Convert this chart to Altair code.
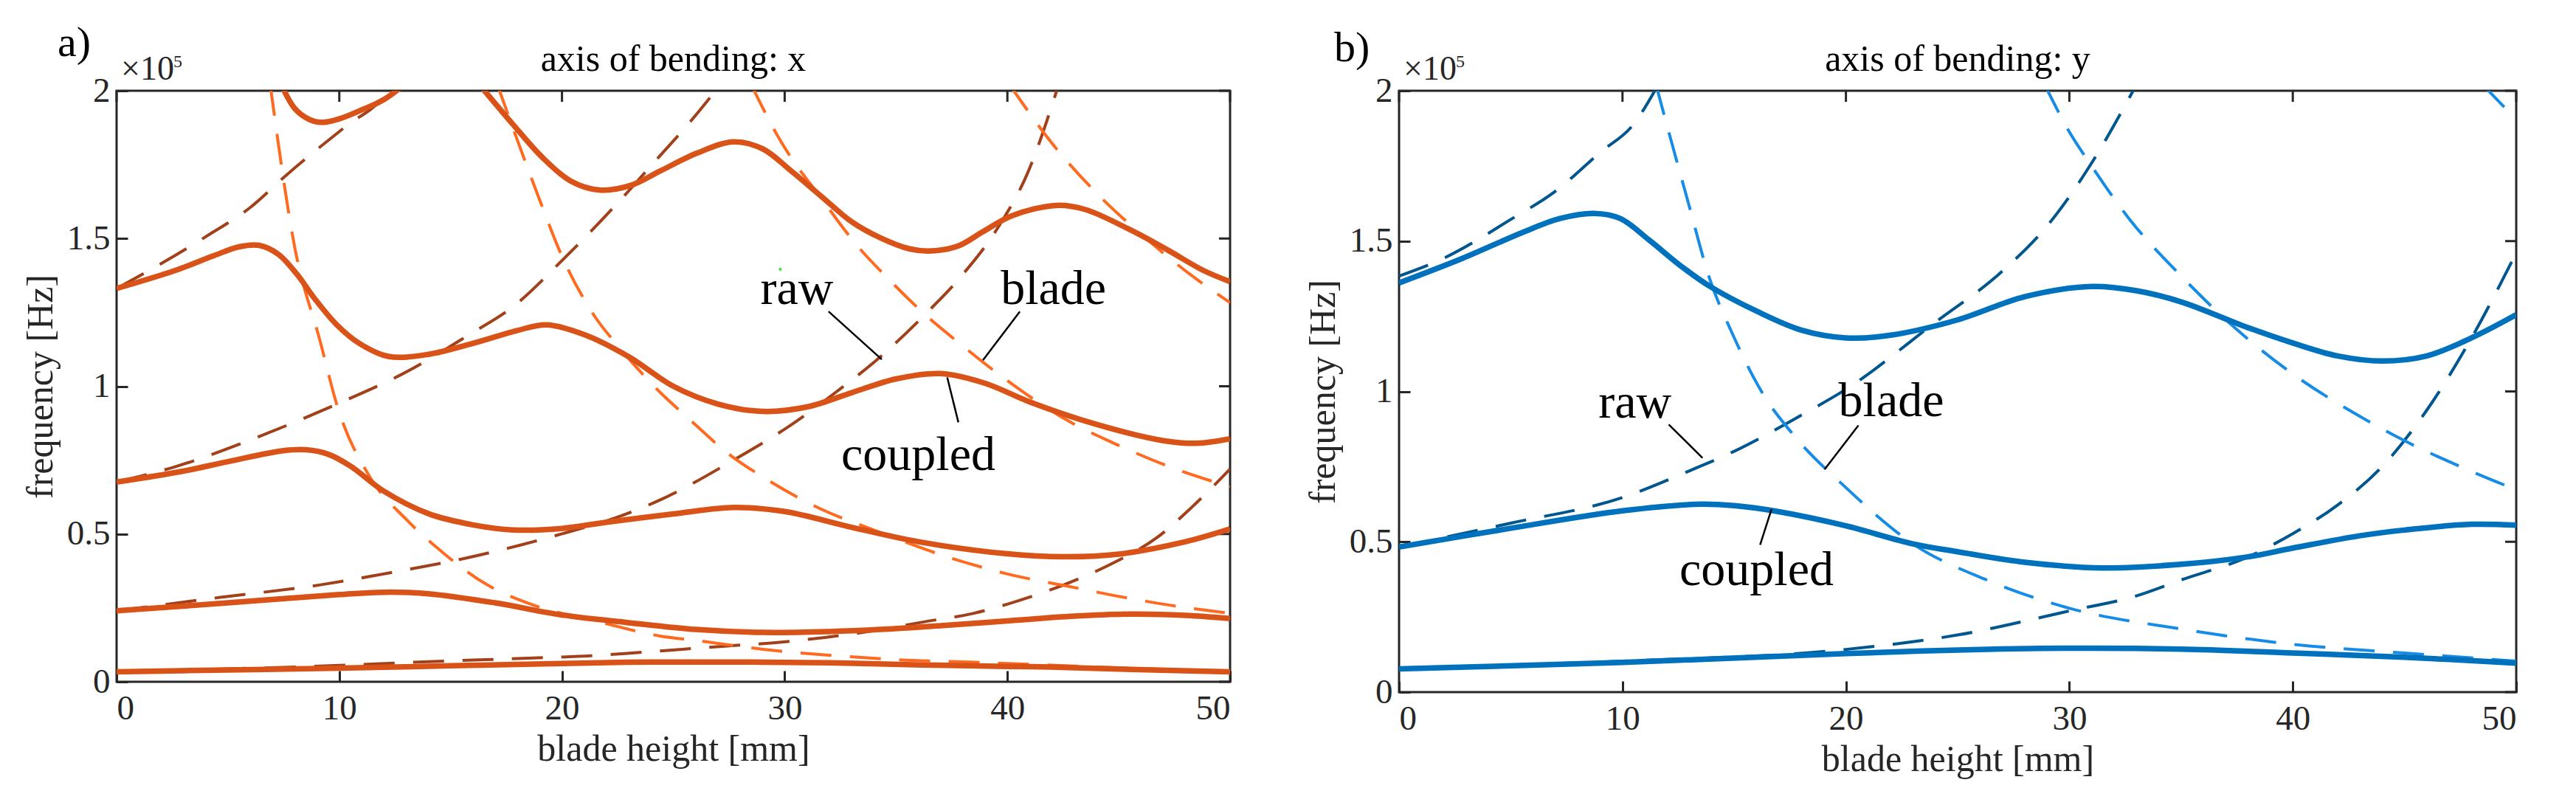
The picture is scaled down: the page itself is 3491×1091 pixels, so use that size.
import altair as alt
import pandas as pd

FONT = "Liberation Serif"
AXIS_COLOR = "#262626"

X_TICKS = [0, 10, 20, 30, 40, 50]
Y_TICKS = [0, 0.5, 1, 1.5, 2]

# ---- panel a) axis of bending: x  (frequency in units of 1e5 Hz)
A_COLORS = {"coupled": "#D95319", "raw": "#A2401A", "blade": "#FF6A1F"}

A_COUPLED_1_X = [0, 5, 10, 15, 20, 22.9, 25, 28, 32, 36.2, 40, 41.9, 45, 50]
A_COUPLED_1_F = [0.034, 0.040, 0.046, 0.054, 0.062, 0.066, 0.067, 0.067, 0.064, 0.057, 0.052, 0.050, 0.043, 0.034]
A_COUPLED_2_X = [0, 5, 10, 12, 14, 17, 20, 23, 26, 29, 32, 34.3, 37, 40, 43, 45.5, 48, 50]
A_COUPLED_2_F = [0.24, 0.267, 0.295, 0.303, 0.298, 0.267, 0.226, 0.2, 0.177, 0.167, 0.17, 0.177, 0.19, 0.206, 0.222, 0.229, 0.225, 0.214]
A_COUPLED_3_X = [0, 3, 5, 7.5, 8.5, 9.5, 10.5, 12, 14, 16, 17.8, 20, 22, 25, 27.7, 30, 33, 36, 40, 42.5, 45, 48, 50]
A_COUPLED_3_F = [0.676, 0.713, 0.745, 0.782, 0.785, 0.77, 0.73, 0.645, 0.569, 0.531, 0.514, 0.519, 0.54, 0.568, 0.59, 0.576, 0.523, 0.474, 0.433, 0.423, 0.432, 0.474, 0.517]
A_COUPLED_4_X = [0, 2.64, 4.3, 5.5, 6.4, 7.26, 8.1, 8.9, 9.9, 10.9, 12.2, 14, 16, 18, 19.3, 21, 23, 25, 27, 29, 31, 33, 35, 37, 39, 41, 44, 47, 48.5, 50]
A_COUPLED_4_F = [1.331, 1.392, 1.44, 1.472, 1.477, 1.447, 1.379, 1.296, 1.207, 1.145, 1.101, 1.108, 1.145, 1.189, 1.208, 1.175, 1.10, 1.0, 0.94, 0.915, 0.93, 0.978, 1.025, 1.043, 1.01, 0.947, 0.871, 0.816, 0.807, 0.822]
A_COUPLED_5A_X = [7.4, 8.0, 8.6, 9.2, 10, 11, 12, 12.9]
A_COUPLED_5A_F = [2.02, 1.94, 1.905, 1.893, 1.905, 1.935, 1.97, 2.02]
A_COUPLED_5B_X = [16.3, 17.8, 19.1, 20.4, 21.7, 23.1, 24.4, 26.1, 27.7, 29, 30.3, 31.7, 33, 34.3, 35.6, 36.6, 37.8, 38.9, 40.2, 42.2, 43.5, 45.5, 47.2, 48.8, 50]
A_COUPLED_5B_F = [2.02, 1.886, 1.776, 1.694, 1.664, 1.68, 1.728, 1.79, 1.827, 1.804, 1.728, 1.639, 1.557, 1.502, 1.465, 1.458, 1.475, 1.523, 1.577, 1.612, 1.598, 1.53, 1.461, 1.392, 1.354]

A_RAW_1_X = [0, 8, 14.7, 18.5, 21.3, 23.6, 27.2, 29.5, 31.8, 34, 36.2, 38.5, 40.6, 42.6, 44.7, 46.7, 48.3, 50]
A_RAW_1_F = [0.036, 0.05, 0.07, 0.08, 0.088, 0.1, 0.12, 0.132, 0.15, 0.173, 0.202, 0.232, 0.277, 0.33, 0.40, 0.487, 0.592, 0.72]
A_RAW_2_X = [0, 4.6, 9.15, 12.5, 15.6, 18.1, 20.2, 22.3, 24.4, 27.7, 30.3, 32.3, 34.3, 36.4, 37.9, 39.6, 40.9, 42.3]
A_RAW_2_F = [0.24, 0.285, 0.328, 0.372, 0.417, 0.462, 0.505, 0.552, 0.615, 0.75, 0.87, 0.98, 1.10, 1.25, 1.37, 1.54, 1.72, 2.02]
A_RAW_3_X = [0, 2.6, 6.4, 9.9, 13.2, 15.8, 17.8, 20.1, 22.4, 24.4, 25.7, 27]
A_RAW_3_F = [0.676, 0.727, 0.83, 0.94, 1.056, 1.173, 1.269, 1.433, 1.612, 1.78, 1.89, 2.01]
A_RAW_4_X = [0, 2, 4, 6, 7.6, 10.3, 12, 12.4]
A_RAW_4_F = [1.331, 1.415, 1.506, 1.605, 1.713, 1.88, 1.98, 2.02]

A_BLADE_1_X = [6.9, 8.0, 9.15, 9.9, 11.4, 13.0, 14.7, 16.6, 18.7, 21.7, 24.4, 26, 29.5, 32, 35, 38.6, 44, 50]
A_BLADE_1_F = [2.02, 1.47, 1.15, 0.935, 0.69, 0.55, 0.434, 0.33, 0.26, 0.202, 0.155, 0.14, 0.106, 0.09, 0.075, 0.066, 0.05, 0.035]
A_BLADE_2_X = [17.1, 18.9, 20, 21.3, 22.7, 24.4, 25.7, 27.4, 29.3, 31.2, 34.3, 37.5, 40, 42.8, 45.3, 48.1, 50]
A_BLADE_2_F = [2.02, 1.65, 1.44, 1.256, 1.12, 0.98, 0.89, 0.776, 0.68, 0.60, 0.505, 0.418, 0.365, 0.322, 0.285, 0.25, 0.232]
A_BLADE_3_X = [28.5, 29.7, 31.8, 33.1, 34.7, 36.2, 38.1, 39.8, 42.8, 44.7, 47.2, 50]
A_BLADE_3_F = [2.02, 1.845, 1.62, 1.49, 1.36, 1.25, 1.13, 1.03, 0.88, 0.81, 0.73, 0.66]
A_BLADE_4_X = [40.1, 42.2, 44.2, 46.2, 48.2, 50]
A_BLADE_4_F = [2.02, 1.804, 1.639, 1.502, 1.379, 1.283]

A_WORDS = ["raw", "blade", "coupled"]
A_WORDS_X = [30.55, 42.07, 36.0]
A_WORDS_F = [1.278, 1.278, 0.716]
A_LEADER_X = [31.97, 40.56, 37.3]
A_LEADER_F = [1.253, 1.253, 1.03]
A_LEADER_X2 = [34.36, 38.9, 37.8]
A_LEADER_F2 = [1.091, 1.088, 0.878]

# the small green speck that sits in the reference image
A_SPECK_X = [29.8]
A_SPECK_F = [1.396]

# ---- panel b) axis of bending: y
B_COLORS = {"coupled": "#0072BD", "raw": "#00568F", "blade": "#168CE6"}

B_COUPLED_1_X = [0, 10, 20, 25, 30, 35, 40, 45, 50]
B_COUPLED_1_F = [0.077, 0.099, 0.128, 0.14, 0.146, 0.143, 0.130, 0.116, 0.096]
B_COUPLED_2_X = [0, 5, 10, 13.5, 15, 17, 20, 23, 25, 28, 31.5, 35, 38, 40, 43, 45, 48, 50]
B_COUPLED_2_F = [0.483, 0.545, 0.603, 0.625, 0.62, 0.60, 0.553, 0.493, 0.467, 0.432, 0.413, 0.425, 0.45, 0.479, 0.52, 0.539, 0.558, 0.555]
B_COUPLED_3_X = [0, 2.85, 5.53, 7.2, 8.72, 9.9, 11.2, 12.6, 13.9, 16, 18, 20, 22, 25, 28, 31, 33, 35, 38, 40, 42, 44, 46, 48, 50]
B_COUPLED_3_F = [1.361, 1.443, 1.529, 1.575, 1.592, 1.575, 1.503, 1.418, 1.35, 1.267, 1.204, 1.178, 1.187, 1.238, 1.315, 1.349, 1.335, 1.298, 1.212, 1.161, 1.118, 1.101, 1.118, 1.178, 1.255]

B_RAW_1_X = [0, 10, 20, 25, 30, 33, 35, 38, 40, 42, 44, 46, 48, 50]
B_RAW_1_F = [0.08, 0.103, 0.142, 0.19, 0.27, 0.32, 0.373, 0.45, 0.527, 0.622, 0.75, 0.938, 1.178, 1.461]
B_RAW_2_X = [0, 5, 10, 13, 15, 18, 20, 24, 27, 29, 31, 33]
B_RAW_2_F = [0.483, 0.562, 0.647, 0.736, 0.801, 0.921, 1.007, 1.23, 1.4, 1.55, 1.76, 2.02]
B_RAW_3_X = [0, 2, 5, 7, 9, 10.5, 11.6]
B_RAW_3_F = [1.384, 1.443, 1.572, 1.666, 1.795, 1.889, 2.02]

B_BLADE_1_X = [11.5, 12.1, 12.9, 13.9, 14.9, 16.3, 17.6, 20, 23, 26.3, 30, 35, 40, 45, 50]
B_BLADE_1_F = [2.02, 1.855, 1.64, 1.375, 1.195, 0.99, 0.86, 0.68, 0.493, 0.373, 0.279, 0.21, 0.159, 0.13, 0.103]
B_BLADE_2_X = [28.9, 30, 30.9, 32.7, 35, 37.4, 40, 43.1, 45, 47.5, 50]
B_BLADE_2_F = [2.02, 1.863, 1.76, 1.572, 1.384, 1.212, 1.058, 0.913, 0.836, 0.75, 0.673]
B_BLADE_3_X = [48.5, 49.8, 50]
B_BLADE_3_F = [2.02, 1.92, 1.905]

B_WORDS = ["raw", "blade", "coupled"]
B_WORDS_X = [10.56, 22.03, 16.0]
B_WORDS_F = [0.913, 0.918, 0.356]
B_LEADER_X = [12.07, 20.56, 16.67]
B_LEADER_F = [0.890, 0.887, 0.608]
B_LEADER_X2 = [13.58, 19.05, 16.16]
B_LEADER_F2 = [0.779, 0.741, 0.49]


def curves(pairs):
    rows = []
    for name, xs, fs in pairs:
        rows += [{"curve": name, "x": x, "f": f} for x, f in zip(xs, fs)]
    return pd.DataFrame(rows)


def make_panel(title, tag, tag_dx, tag_dy, colors, raw, blade, coupled,
               words, leaders, width, height, speck=None):
    x_enc = alt.X("x:Q", scale=alt.Scale(domain=[0, 50], nice=False, zero=False),
                  axis=alt.Axis(values=X_TICKS, title="blade height [mm]", offset=-15,
                                tickSize=15, labelPadding=13, titleY=121,
                                titleBaseline="alphabetic"))
    y_enc = alt.Y("f:Q", scale=alt.Scale(domain=[0, 2], nice=False),
                  axis=alt.Axis(values=Y_TICKS, title="frequency [Hz]", offset=-15,
                                tickSize=15, labelPadding=9, labelExpr="'' + datum.value",
                                titleX=-103, titleBaseline="alphabetic"))

    dash = [42, 25]
    raw_lines = alt.Chart(curves(raw)).mark_line(
        strokeWidth=4, strokeDash=dash, clip=True, interpolate="monotone",
        color=colors["raw"]).encode(x=x_enc, y=y_enc, detail="curve:N")
    blade_lines = alt.Chart(curves(blade)).mark_line(
        strokeWidth=4, strokeDash=dash, clip=True, interpolate="monotone",
        color=colors["blade"]).encode(x=x_enc, y=y_enc, detail="curve:N")
    coupled_lines = alt.Chart(curves(coupled)).mark_line(
        strokeWidth=7.5, clip=True, interpolate="catmull-rom",
        color=colors["coupled"]).encode(x=x_enc, y=y_enc, detail="curve:N")

    top_ticks = alt.Chart(pd.DataFrame({"x": X_TICKS})).mark_rule(
        color=AXIS_COLOR, strokeWidth=3).encode(x=x_enc, y=alt.value(0), y2=alt.value(15))
    right_ticks = alt.Chart(pd.DataFrame({"f": Y_TICKS})).mark_rule(
        color=AXIS_COLOR, strokeWidth=3).encode(y=y_enc, x=alt.value(width),
                                                x2=alt.value(width - 15))

    lx, lf, lx2, lf2 = leaders
    leader_lines = alt.Chart(pd.DataFrame({"x": lx, "f": lf, "x2": lx2, "f2": lf2})).mark_rule(
        color="black", strokeWidth=2.5).encode(x=x_enc, y=y_enc, x2="x2:Q", y2="f2:Q")

    wt, wx, wf = words
    word_text = alt.Chart(pd.DataFrame({"t": wt, "x": wx, "f": wf})).mark_text(
        font=FONT, fontSize=66, baseline="alphabetic", align="center",
        color="black").encode(x=x_enc, y=y_enc, text="t:N")

    # panel title, tag and the x10^5 multiplier sit just above the top frame
    corner = pd.DataFrame({"x": [0], "f": [2]})
    middle = pd.DataFrame({"x": [25], "f": [2]})
    title_text = alt.Chart(middle).mark_text(
        text=title, font=FONT, fontSize=50, align="center", baseline="alphabetic",
        dy=-27, color="black").encode(x=x_enc, y=y_enc)
    tag_text = alt.Chart(corner).mark_text(
        text=tag, font=FONT, fontSize=58, align="left", baseline="alphabetic",
        dx=tag_dx, dy=tag_dy, color="black").encode(x=x_enc, y=y_enc)
    times_ten = alt.Chart(corner).mark_text(
        text="×10", font=FONT, fontSize=46, align="left", baseline="alphabetic",
        dx=6, dy=-15, color=AXIS_COLOR).encode(x=x_enc, y=y_enc)
    exponent = alt.Chart(corner).mark_text(
        text="5", font=FONT, fontSize=24, align="left", baseline="alphabetic",
        dx=77, dy=-32, color=AXIS_COLOR).encode(x=x_enc, y=y_enc)

    layers = [top_ticks, right_ticks, raw_lines, blade_lines, coupled_lines,
              leader_lines, word_text, title_text, tag_text, times_ten, exponent]
    if speck is not None:
        layers.append(alt.Chart(pd.DataFrame({"x": speck[0], "f": speck[1]})).mark_square(
            size=12, color="#22EE22", opacity=1).encode(x=x_enc, y=y_enc))

    return alt.layer(*layers).properties(width=width, height=height)


panel_a = make_panel(
    "axis of bending: x", "a)", -80, -47, A_COLORS,
    raw=[("r1", A_RAW_1_X, A_RAW_1_F), ("r2", A_RAW_2_X, A_RAW_2_F),
         ("r3", A_RAW_3_X, A_RAW_3_F), ("r4", A_RAW_4_X, A_RAW_4_F)],
    blade=[("b1", A_BLADE_1_X, A_BLADE_1_F), ("b2", A_BLADE_2_X, A_BLADE_2_F),
           ("b3", A_BLADE_3_X, A_BLADE_3_F), ("b4", A_BLADE_4_X, A_BLADE_4_F)],
    coupled=[("c1", A_COUPLED_1_X, A_COUPLED_1_F), ("c2", A_COUPLED_2_X, A_COUPLED_2_F),
             ("c3", A_COUPLED_3_X, A_COUPLED_3_F), ("c4", A_COUPLED_4_X, A_COUPLED_4_F),
             ("c5a", A_COUPLED_5A_X, A_COUPLED_5A_F), ("c5b", A_COUPLED_5B_X, A_COUPLED_5B_F)],
    words=(A_WORDS, A_WORDS_X, A_WORDS_F),
    leaders=(A_LEADER_X, A_LEADER_F, A_LEADER_X2, A_LEADER_F2),
    width=1509, height=801,
    speck=(A_SPECK_X, A_SPECK_F),
)

panel_b = make_panel(
    "axis of bending: y", "b)", -88, -40, B_COLORS,
    raw=[("r1", B_RAW_1_X, B_RAW_1_F), ("r2", B_RAW_2_X, B_RAW_2_F),
         ("r3", B_RAW_3_X, B_RAW_3_F)],
    blade=[("b1", B_BLADE_1_X, B_BLADE_1_F), ("b2", B_BLADE_2_X, B_BLADE_2_F),
           ("b3", B_BLADE_3_X, B_BLADE_3_F)],
    coupled=[("c1", B_COUPLED_1_X, B_COUPLED_1_F), ("c2", B_COUPLED_2_X, B_COUPLED_2_F),
             ("c3", B_COUPLED_3_X, B_COUPLED_3_F)],
    words=(B_WORDS, B_WORDS_X, B_WORDS_F),
    leaders=(B_LEADER_X, B_LEADER_F, B_LEADER_X2, B_LEADER_F2),
    width=1514, height=815,
)

chart = alt.hconcat(panel_a, panel_b, spacing=96).properties(
    padding={"left": 20, "top": 20, "right": 0, "bottom": 0},
    background="white",
).configure_view(
    stroke=AXIS_COLOR, strokeWidth=3,
).configure_axis(
    domain=False, grid=False, tickColor=AXIS_COLOR, tickWidth=3,
    labelFont=FONT, labelFontSize=47, labelColor=AXIS_COLOR,
    titleFont=FONT, titleFontSize=50, titleFontWeight="normal", titleColor=AXIS_COLOR,
)

chart.save("out.html", embed_options={"renderer": "svg", "actions": False})
